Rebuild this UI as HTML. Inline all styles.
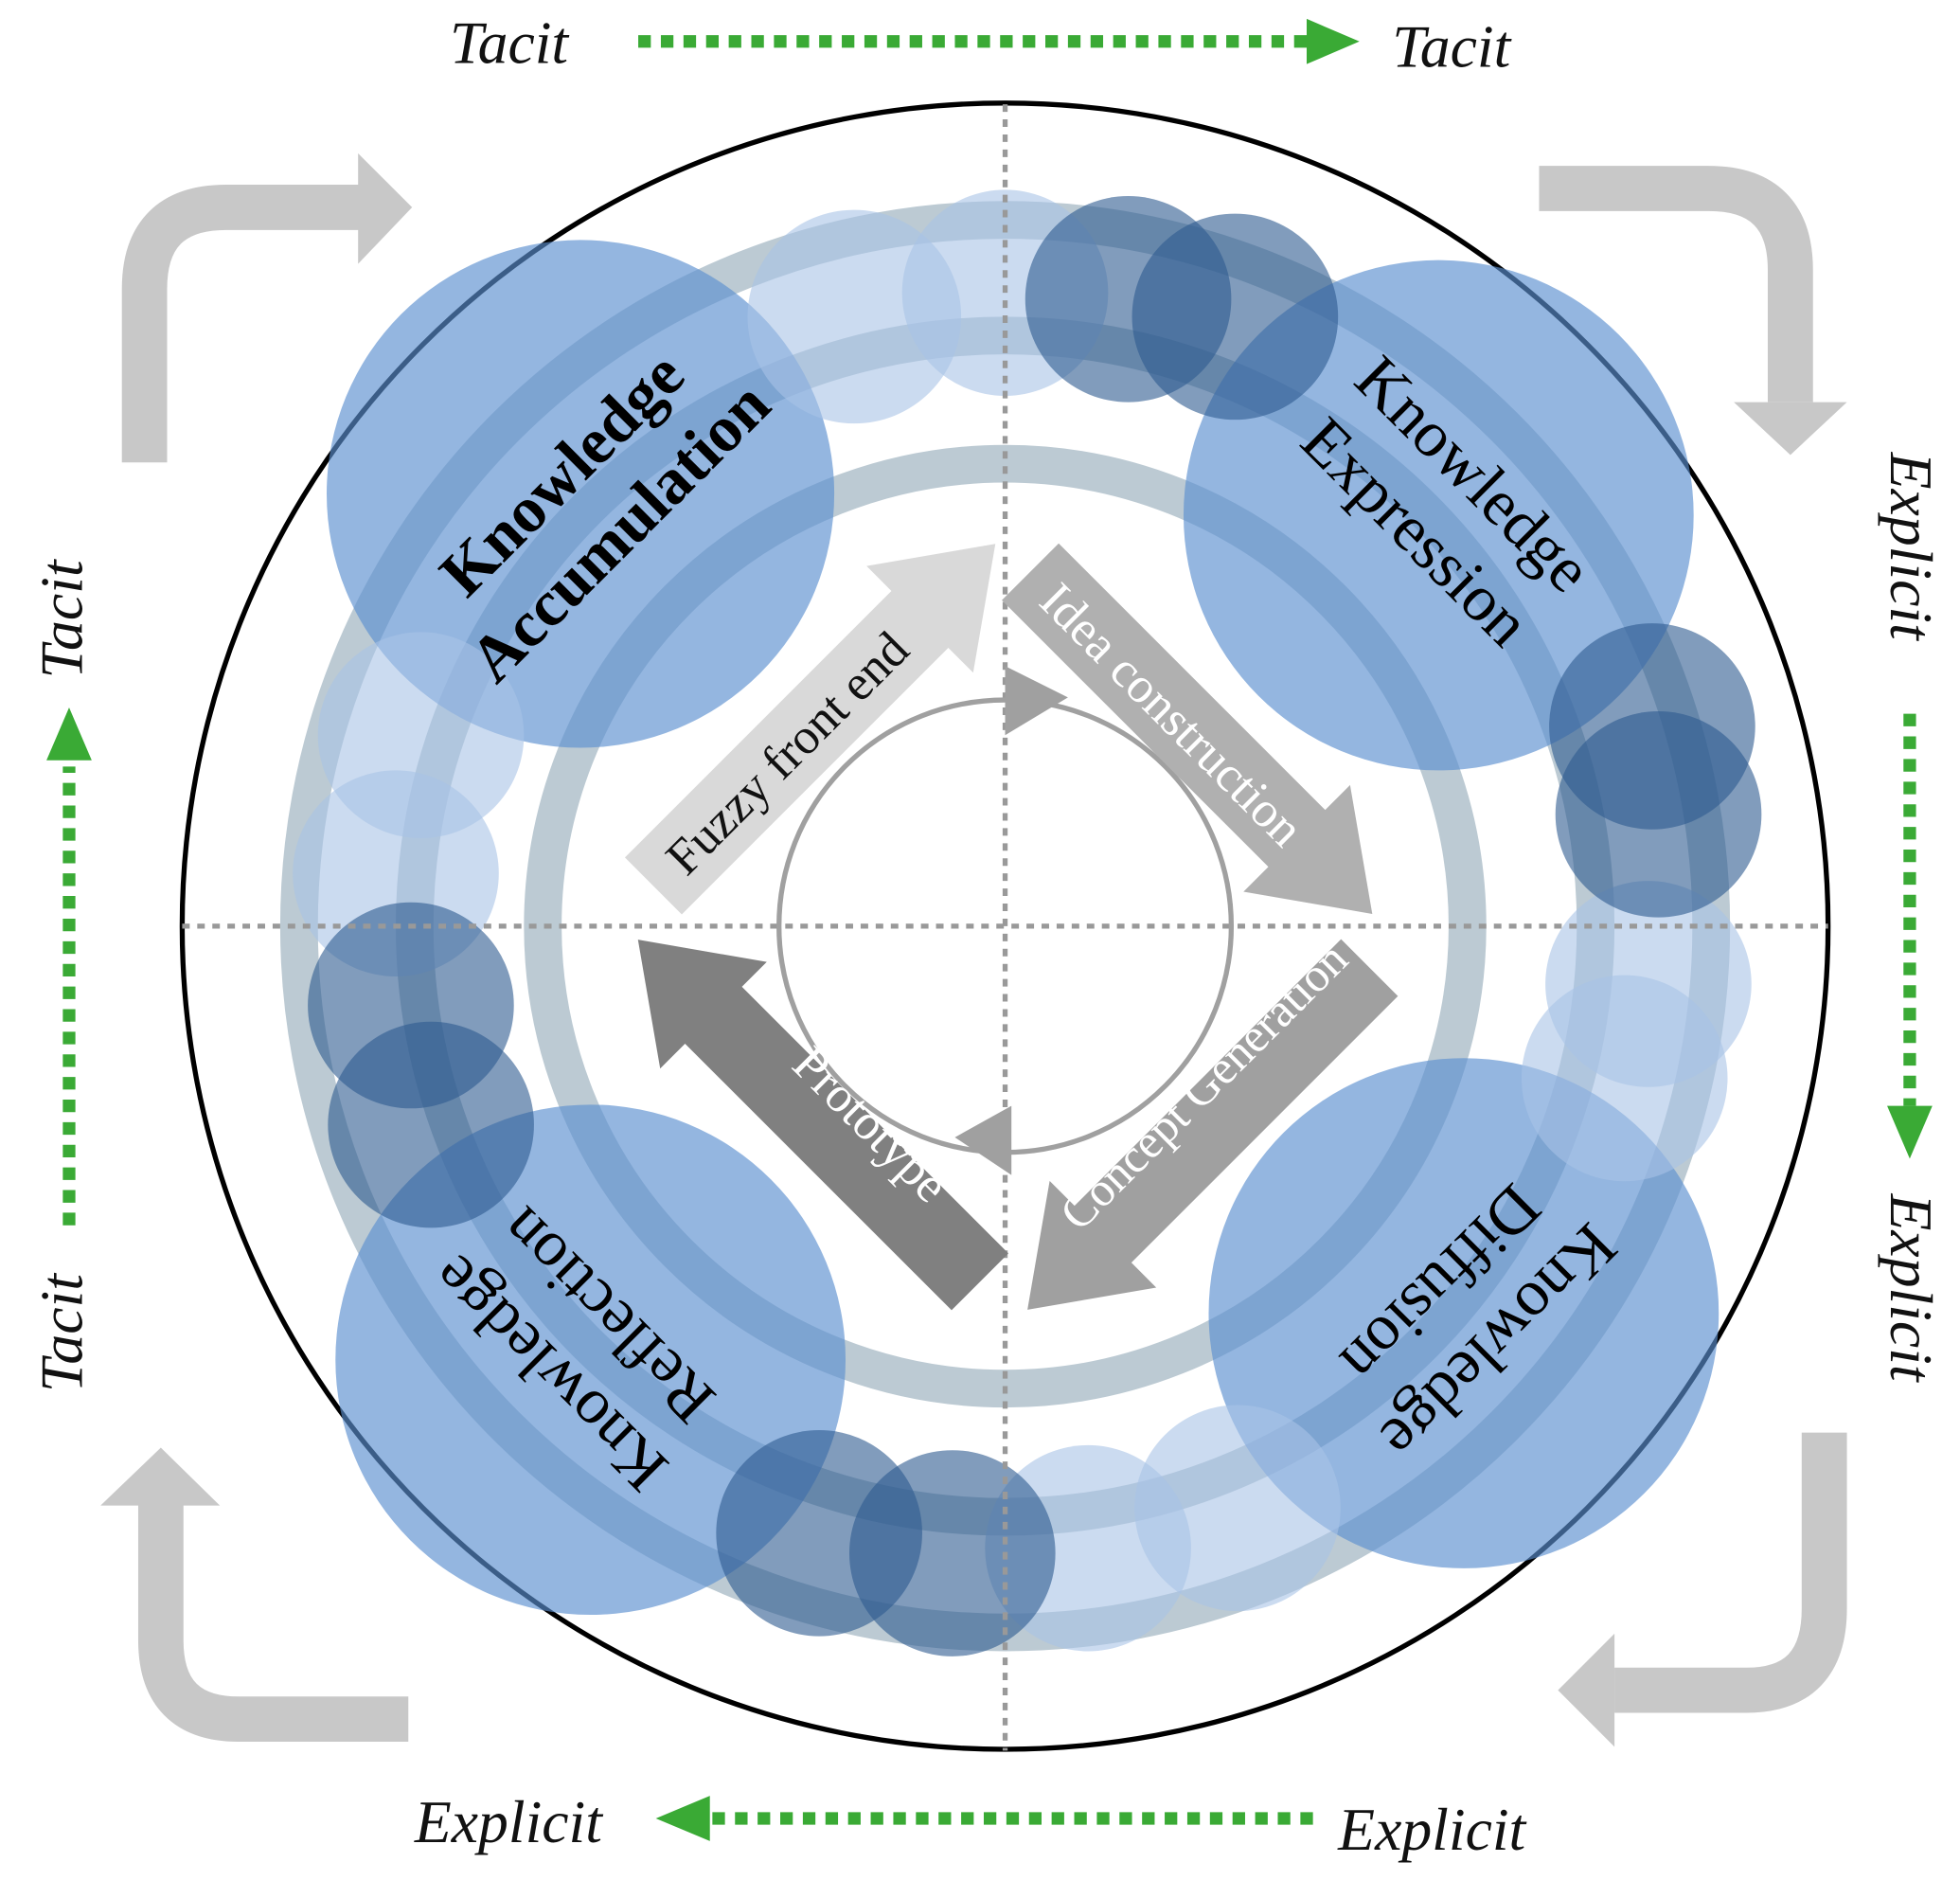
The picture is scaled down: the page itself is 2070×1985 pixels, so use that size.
<!DOCTYPE html>
<html><head><meta charset="utf-8"><style>
html,body{margin:0;padding:0;background:#fff;width:2070px;height:1985px;overflow:hidden}
svg{display:block}
text{font-family:"Liberation Serif",serif}
</style></head><body>
<svg width="2070" height="1985" viewBox="0 0 1560 1496" preserveAspectRatio="none" xmlns="http://www.w3.org/2000/svg">
<defs>
<marker id="g" viewBox="0 0 10 10" refX="2" refY="5" markerWidth="4" markerHeight="4" orient="auto"><path d="M0,0 L10,5 L0,10 z" fill="#3aaa35"/></marker>
</defs>
<!-- corner arrows -->
<g fill="none" stroke="#c8c8c8" stroke-width="36">
<path d="M115,368 V230 Q115,165 180,165 H290"/>
<path d="M1225,150 H1360 Q1425,150 1425,215 V320"/>
<path d="M1452,1140 V1280 Q1452,1345 1390,1345 H1285"/>
<path d="M325,1368 H190 Q128,1368 128,1305 V1195"/>
</g>
<g fill="#c8c8c8">
<polygon points="285,122 328,165 285,210"/>
<polygon points="1380,320 1470,320 1425,362"/>
<polygon points="1285,1300 1285,1390 1240,1345"/>
<polygon points="80,1198 175,1198 128,1152"/>
</g>
<!-- green arrows -->
<g stroke="#3aaa35" stroke-width="10" stroke-dasharray="10,8" fill="none">
<line x1="508" y1="33" x2="1040" y2="33"/>
<line x1="1520" y1="568" x2="1520" y2="880"/>
<line x1="1045" y1="1447" x2="565" y2="1447"/>
<line x1="55" y1="975" x2="55" y2="610"/>
</g>
<g fill="#3aaa35">
<polygon points="1040,15 1082,33 1040,51"/>
<polygon points="1502,880 1538,880 1520,922"/>
<polygon points="565,1429 565,1465 522,1447"/>
<polygon points="37,605 73,605 55,563"/>
</g>
<g font-style="italic" font-size="48" fill="#111">
<text x="358" y="50">Tacit</text>
<text x="1108" y="53">Tacit</text>
<text x="330" y="1466">Explicit</text>
<text x="1065" y="1472">Explicit</text>
<text transform="translate(65,540) rotate(-90)">Tacit</text>
<text transform="translate(65,1108) rotate(-90)">Tacit</text>
<text transform="translate(1505,360) rotate(90)">Explicit</text>
<text transform="translate(1505,950) rotate(90)">Explicit</text>
</g>
<!-- big circle -->
<circle cx="800" cy="737" r="655" fill="#fff" stroke="#000" stroke-width="4"/>
<!-- rings -->
<g fill="none" stroke="#bccad3" stroke-width="30">
<circle cx="800" cy="737" r="562"/>
<circle cx="800" cy="737" r="470"/>
<circle cx="800" cy="737" r="368"/>
</g>
<!-- blue circles -->
<g fill="#5b8fd0" fill-opacity="0.65">
<circle cx="462" cy="393" r="202"/>
<circle cx="1145" cy="410" r="203"/>
<circle cx="1165" cy="1045" r="203"/>
<circle cx="470" cy="1082" r="203"/>
</g>
<g fill="#a9c3e6" fill-opacity="0.6">
<circle cx="680" cy="252" r="85"/><circle cx="800" cy="233" r="82"/>
<circle cx="1312" cy="783" r="82"/><circle cx="1293" cy="858" r="82"/>
<circle cx="985" cy="1200" r="82"/><circle cx="866" cy="1232" r="82"/>
<circle cx="335" cy="585" r="82"/><circle cx="315" cy="695" r="82"/>
</g>
<g fill="#2d5a90" fill-opacity="0.6">
<circle cx="898" cy="238" r="82"/><circle cx="983" cy="252" r="82"/>
<circle cx="1315" cy="578" r="82"/><circle cx="1320" cy="648" r="82"/>
<circle cx="758" cy="1236" r="82"/><circle cx="652" cy="1220" r="82"/>
<circle cx="327" cy="800" r="82"/><circle cx="343" cy="895" r="82"/>
</g>
<!-- dotted cross -->
<g stroke="#999" stroke-width="4" stroke-dasharray="6,6">
<line x1="800" y1="83" x2="800" y2="1393"/>
<line x1="145" y1="737" x2="1455" y2="737"/>
</g>
<!-- inner circle -->
<circle cx="800" cy="737" r="180" fill="none" stroke="#a0a0a0" stroke-width="4"/>
<polygon points="800,530 850,555 800,585" fill="#a0a0a0"/>
<polygon points="805,880 760,905 805,935" fill="#a0a0a0"/>
<!-- diamond arrows: local coords body 0..L, width 64 -->
<g transform="translate(520,705) rotate(-45)">
<polygon points="0,-32 300,-32 300,-60 385,0 300,60 300,32 0,32" fill="#d9d9d9"/>
<text x="150" y="14" font-size="40" fill="#111" text-anchor="middle">Fuzzy front end</text>
</g>
<g transform="translate(820,455) rotate(45)">
<polygon points="0,-32 300,-32 300,-60 385,0 300,60 300,32 0,32" fill="#b0b0b0"/>
<text x="160" y="14" font-size="40" fill="#fff" text-anchor="middle">Idea construction</text>
</g>
<g transform="translate(1090,770) rotate(135)">
<polygon points="0,-32 300,-32 300,-60 385,0 300,60 300,32 0,32" fill="#a0a0a0"/>
<text x="160" y="-14" font-size="38" fill="#fff" text-anchor="middle" transform="rotate(180 160 0)">Concept Generation</text>
</g>
<g transform="translate(780,1020) rotate(-135)">
<polygon points="0,-32 300,-32 300,-60 385,0 300,60 300,32 0,32" fill="#808080"/>
<text x="150" y="-14" font-size="40" fill="#fff" text-anchor="middle" transform="rotate(180 150 0)">Prototype</text>
</g>
<!-- labels -->
<g font-size="52" fill="#000" text-anchor="middle">
<g transform="translate(470,400) rotate(-45)" font-weight="bold">
<text x="0" y="-15">Knowledge</text><text x="0" y="50">Accumulation</text></g>
<g transform="translate(1150,400) rotate(45)">
<text x="0" y="-15">Knowledge</text><text x="0" y="50">Expression</text></g>
<g transform="translate(1170,1045) rotate(135)">
<text x="0" y="-15">Knowledge</text><text x="0" y="50">Diffusion</text></g>
<g transform="translate(460,1070) rotate(-135)">
<text x="0" y="-15">Knowledge</text><text x="0" y="50">Reflection</text></g>
</g>
</svg>
</body></html>
